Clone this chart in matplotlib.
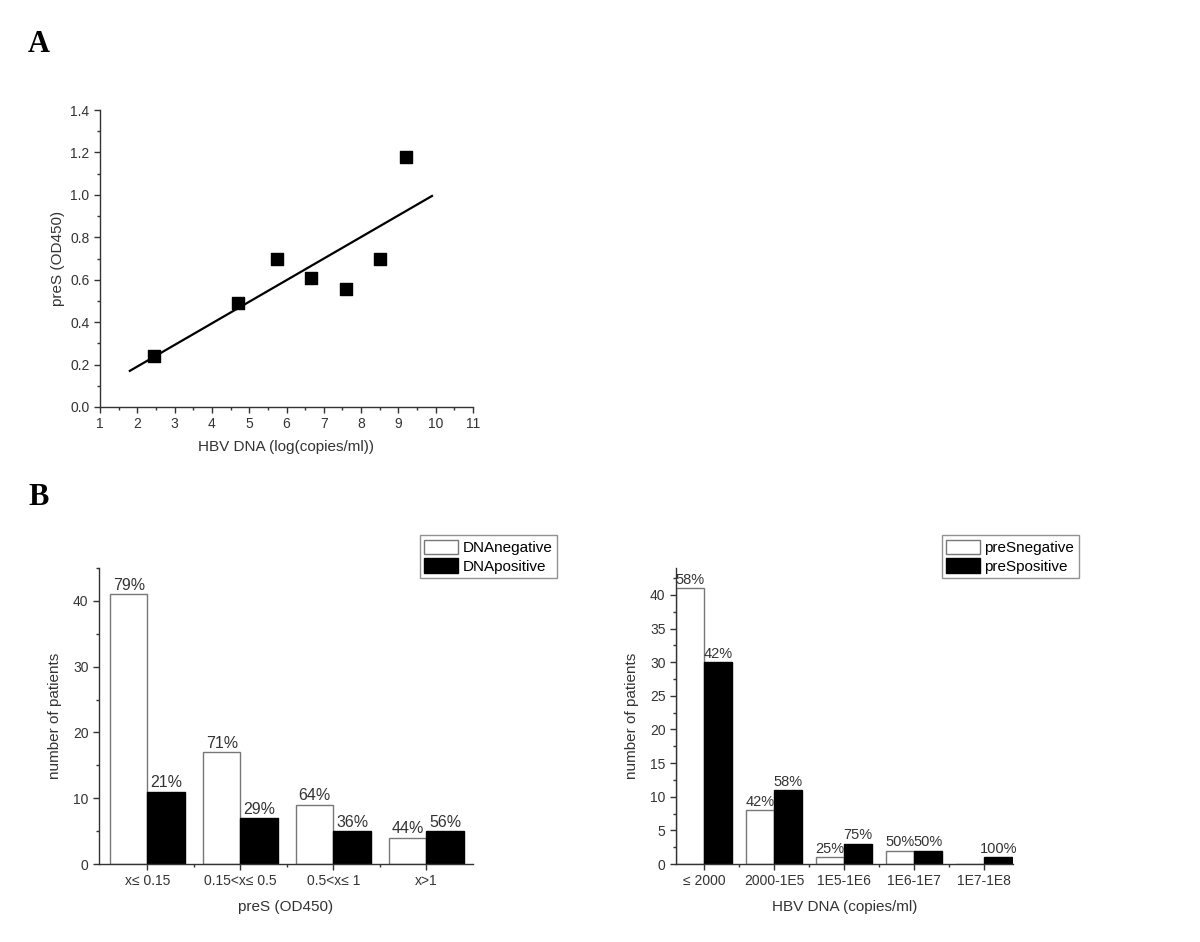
import numpy as np
import matplotlib
matplotlib.use("Agg")
import matplotlib.pyplot as plt
from matplotlib.ticker import MultipleLocator

plt.rcParams['font.family'] = ['Liberation Sans', 'DejaVu Sans']

# Panel A: scatter of preS vs HBV DNA
hbv_log = [2.45, 4.7, 5.75, 6.65, 7.6, 8.5, 9.2]
pres_od = [0.24, 0.49, 0.70, 0.61, 0.555, 0.70, 1.18]

# Panel B left: patients by preS OD450 bin
pres_bins = ['x\u2264 0.15', '0.15<x\u2264 0.5', '0.5<x\u2264 1', 'x>1']
dna_neg = [41, 17, 9, 4]
dna_pos = [11, 7, 5, 5]
dna_neg_pct = ['79%', '71%', '64%', '44%']
dna_pos_pct = ['21%', '29%', '36%', '56%']

# Panel B right: patients by HBV DNA bin
dna_bins = ['\u2264 2000', '2000-1E5', '1E5-1E6', '1E6-1E7', '1E7-1E8']
pres_neg = [41, 8, 1, 2, 0]
pres_pos = [30, 11, 3, 2, 1]
pres_neg_pct = ['58%', '42%', '25%', '50%', '']
pres_pos_pct = ['42%', '58%', '75%', '50%', '100%']

W, H = 1200, 942
fig = plt.figure(figsize=(12, 9.42), dpi=100)
TXT = '#333333'


def px_axes(left, top, right, bottom):
    return fig.add_axes([left / W, 1 - bottom / H, (right - left) / W, (bottom - top) / H])


def style(ax):
    for s in ['top', 'right']:
        ax.spines[s].set_visible(False)
    for s in ['left', 'bottom']:
        ax.spines[s].set_linewidth(1.0)
        ax.spines[s].set_color(TXT)
    ax.tick_params(which='major', direction='out', length=4, width=1, labelsize=10, colors=TXT)
    ax.tick_params(which='minor', direction='out', length=2, width=1, colors=TXT)


# ---- A ----
axA = px_axes(100, 110, 473, 407)
style(axA)
axA.scatter(hbv_log, pres_od, marker='s', s=75, color='black', zorder=3)
slope, icpt = np.polyfit(hbv_log, pres_od, 1)
xl = np.array([1.8, 9.9])
axA.plot(xl, slope * xl + icpt, color='black', lw=1.6)
axA.set_xlim(1, 11)
axA.set_ylim(0, 1.4)
axA.xaxis.set_major_locator(MultipleLocator(1))
axA.xaxis.set_minor_locator(MultipleLocator(0.5))
axA.yaxis.set_major_locator(MultipleLocator(0.2))
axA.yaxis.set_minor_locator(MultipleLocator(0.1))
axA.yaxis.set_major_formatter(matplotlib.ticker.FormatStrFormatter('%.1f'))
axA.set_xlabel('HBV DNA (log(copies/ml))', fontsize=11, color=TXT, labelpad=6)
axA.set_ylabel('preS (OD450)', fontsize=11, color=TXT, labelpad=4)

fig.text(28 / W, 1 - 52 / H, 'A', fontsize=22, fontweight='bold', family='Liberation Serif')
fig.text(28 / W, 1 - 505 / H, 'B', fontsize=22, fontweight='bold', family='Liberation Serif')


def grouped(ax, cats, neg, pos, neg_pct, pos_pct, labels, legend_anchor, pct_size):
    x = np.arange(1, len(cats) + 1)
    w = 0.4
    ax.bar(x - w / 2, neg, width=w, color='white', edgecolor='#777777', lw=1, label=labels[0], zorder=2)
    ax.bar(x + w / 2, pos, width=w, color='black', edgecolor='black', lw=1, label=labels[1], zorder=2)
    for xi, v, t in zip(x - w / 2, neg, neg_pct):
        if t:
            ax.text(xi, v + 0.2, t, ha='center', va='bottom', fontsize=pct_size, color=TXT)
    for xi, v, t in zip(x + w / 2, pos, pos_pct):
        ax.text(xi, v + 0.2, t, ha='center', va='bottom', fontsize=pct_size, color=TXT)
    ax.set_xticks(x)
    ax.set_xticklabels(cats)
    ax.set_xticks(x[:-1] + 0.5, minor=True)
    leg = ax.legend(loc='upper right', bbox_to_anchor=legend_anchor, bbox_transform=fig.transFigure,
                    fontsize=11, frameon=True, fancybox=False, handlelength=2.2, handleheight=1.1,
                    borderpad=0.3, labelspacing=0.2, handletextpad=0.3, borderaxespad=0)
    leg.get_frame().set_edgecolor('#777777')
    leg.get_frame().set_linewidth(1)


# ---- B left ----
axB1 = px_axes(99, 568, 473, 864)
style(axB1)
grouped(axB1, pres_bins, dna_neg, dna_pos, dna_neg_pct, dna_pos_pct,
        ['DNAnegative', 'DNApositive'], (557 / W, 1 - 535 / H), 11.5)
axB1.set_xlim(0.48, 4.5)
axB1.set_ylim(0, 45)
axB1.yaxis.set_major_locator(MultipleLocator(10))
axB1.yaxis.set_minor_locator(MultipleLocator(5))
axB1.set_xlabel('preS (OD450)', fontsize=11, color=TXT, labelpad=8)
axB1.set_ylabel('number of patients', fontsize=11, color=TXT, labelpad=8)

# ---- B right ----
axB2 = px_axes(676, 568, 1013, 864)
style(axB2)
grouped(axB2, dna_bins, pres_neg, pres_pos, pres_neg_pct, pres_pos_pct,
        ['preSnegative', 'preSpositive'], (1079 / W, 1 - 535 / H), 10.5)
axB2.set_xlim(0.6, 5.41)
axB2.set_ylim(0, 44)
axB2.yaxis.set_major_locator(MultipleLocator(5))
axB2.yaxis.set_minor_locator(MultipleLocator(2.5))
axB2.set_xlabel('HBV DNA (copies/ml)', fontsize=11, color=TXT, labelpad=8)
axB2.set_ylabel('number of patients', fontsize=11, color=TXT, labelpad=8)

fig.savefig('out.png', dpi=100)
